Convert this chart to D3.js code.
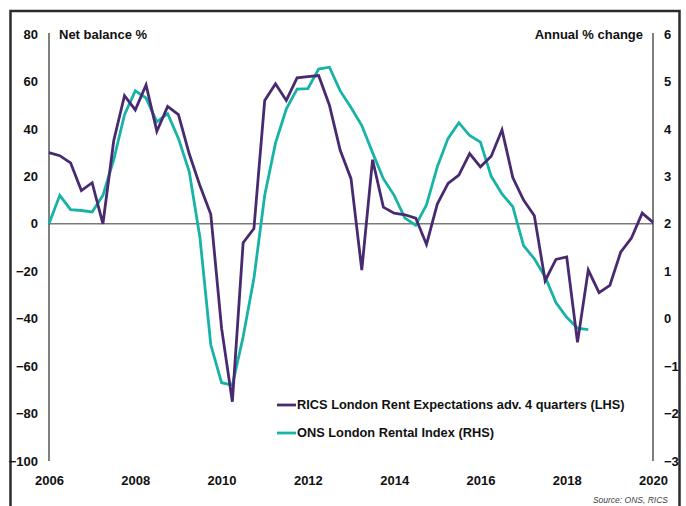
<!DOCTYPE html>
<html>
<head>
<meta charset="utf-8">
<script src="https://cdn.jsdelivr.net/npm/d3@7/dist/d3.min.js"></script>
<style>
  html, body { margin: 0; padding: 0; background: #fff; }
  svg { display: block; font-family: "Liberation Sans", Arial, sans-serif; }
</style>
</head>
<body>
<svg id="chart" width="686" height="506"></svg>
<script>
// ---- Data (quarterly, starting 2006 Q1) ----
const startYear = 2006;
const ricsLabel = "RICS London Rent Expectations adv. 4 quarters (LHS)";
const onsLabel = "ONS London Rental Index (RHS)";
// RICS net balance %, left axis
const ricsValues = [
  30, 28.7, 25.7, 14, 17.3, 0, 35, 54, 48, 58.5,
  39, 49.5, 46, 29.5, 16, 4, -44, -75, -8, -2,
  52, 59, 52, 61.5, 62, 62.5, 50, 31, 19, -19.5,
  27, 7, 4.5, 3.8, 2.4, -8.7, 8.3, 17, 20.5, 29.6,
  24, 28.5, 39.6, 19.5, 10, 3.4, -24, -15, -14, -50,
  -19.5, -29, -26, -12, -6, 4.5, 0.6
];
// ONS annual % change, right axis
const onsValues = [
  2.0, 2.6, 2.3, 2.28, 2.25, 2.6, 3.35, 4.3, 4.8, 4.65,
  4.15, 4.32, 3.8, 3.1, 1.7, -0.55, -1.35, -1.4, -0.38, 0.85,
  2.6, 3.7, 4.42, 4.84, 4.85, 5.26, 5.3, 4.8, 4.45, 4.07,
  3.5, 2.95, 2.6, 2.12, 1.97, 2.4, 3.2, 3.8, 4.13, 3.86,
  3.72, 3.0, 2.63, 2.36, 1.54, 1.26, 0.88, 0.34, 0.03, -0.2,
  -0.23
];
const leftTicks = [80, 60, 40, 20, 0, -20, -40, -60, -80, -100];
const rightTicks = [6, 5, 4, 3, 2, 1, 0, -1, -2, -3];
const yearTicks = [2006, 2008, 2010, 2012, 2014, 2016, 2018, 2020];
const leftTitle = "Net balance %";
const rightTitle = "Annual % change";
const sourceText = "Source: ONS, RICS";

const purple = "#482a70";
const teal = "#17b3a6";

// ---- Layout ----
const svg = d3.select("#chart");
const plot = { left: 49, right: 653, top: 34, bottom: 461 };

const x = d3.scaleLinear().domain([2006, 2020]).range([plot.left, plot.right]);
const yL = d3.scaleLinear().domain([-100, 80]).range([plot.bottom, plot.top]);
const yR = d3.scaleLinear().domain([-3, 6]).range([plot.bottom, plot.top]);

const ricsData = ricsValues.map((v, i) => ({ t: startYear + i / 4, v }));
const onsData = onsValues.map((v, i) => ({ t: startYear + i / 4, v }));

// Frame
svg.append("rect")
  .attr("x", 10.5).attr("y", 11).attr("width", 669).attr("height", 520)
  .attr("fill", "none").attr("stroke", "#2b2b2b").attr("stroke-width", 2.5);

// Zero line
svg.append("line")
  .attr("x1", plot.left).attr("x2", plot.right)
  .attr("y1", yL(0)).attr("y2", yL(0))
  .attr("stroke", "#7a7a7a").attr("stroke-width", 1.5);

// Axes
const axisLeft = d3.axisLeft(yL).tickValues(leftTicks).tickSize(0).tickPadding(11).tickFormat(d3.format("d"));
const gL = svg.append("g").attr("transform", `translate(${plot.left},0)`).call(axisLeft);
const axisRight = d3.axisRight(yR).tickValues(rightTicks).tickSize(0).tickPadding(11).tickFormat(d3.format("d"));
const gR = svg.append("g").attr("transform", `translate(${plot.right},0)`).call(axisRight);
const axisBottom = d3.axisBottom(x).tickValues(yearTicks).tickSize(0).tickPadding(15).tickFormat(d3.format("d"));
const gB = svg.append("g").attr("transform", `translate(0,${plot.bottom})`).call(axisBottom);
gB.select(".domain").remove();

gL.select(".domain").attr("stroke", "#000").attr("stroke-width", 1)
  .attr("d", `M0,${plot.top - 1}V${plot.bottom}`);
gR.select(".domain").attr("stroke", "#000").attr("stroke-width", 1)
  .attr("d", `M0,${plot.top - 1}V${plot.bottom}`);

[gL, gR, gB].forEach(g => {
  g.selectAll("text")
    .attr("fill", "#111")
    .style("font-size", "13px")
    .style("font-weight", "bold")
    .style("font-family", "'Liberation Sans', Arial, sans-serif");
});

// Axis titles
svg.append("text")
  .attr("x", 59).attr("y", plot.top).attr("dy", "0.35em")
  .attr("fill", "#111").style("font-size", "13px").style("font-weight", "bold")
  .text(leftTitle);
svg.append("text")
  .attr("x", 643).attr("y", plot.top).attr("dy", "0.35em")
  .attr("text-anchor", "end")
  .attr("fill", "#111").style("font-size", "13px").style("font-weight", "bold")
  .text(rightTitle);

// Lines
const lineL = d3.line().x(d => x(d.t)).y(d => yL(d.v));
const lineR = d3.line().x(d => x(d.t)).y(d => yR(d.v));

svg.append("path").datum(onsData)
  .attr("d", lineR).attr("fill", "none")
  .attr("stroke", teal).attr("stroke-width", 2.8).attr("stroke-linejoin", "miter");
svg.append("path").datum(ricsData)
  .attr("d", lineL).attr("fill", "none")
  .attr("stroke", purple).attr("stroke-width", 2.8).attr("stroke-linejoin", "miter");

// Legend
const legendItems = [
  { label: ricsLabel, color: purple, y: 405 },
  { label: onsLabel, color: teal, y: 433 }
];
const lg = svg.append("g");
legendItems.forEach(it => {
  lg.append("line")
    .attr("x1", 277).attr("x2", 296).attr("y1", it.y).attr("y2", it.y)
    .attr("stroke", it.color).attr("stroke-width", 2.8);
  lg.append("text")
    .attr("x", 297).attr("y", it.y).attr("dy", "0.35em")
    .attr("fill", "#111").style("font-size", "12.8px").style("font-weight", "bold")
    .text(it.label);
});

// Source
svg.append("text")
  .attr("x", 668).attr("y", 503)
  .attr("text-anchor", "end")
  .attr("fill", "#444").style("font-size", "8.5px").style("font-style", "italic")
  .text(sourceText);
</script>
</body>
</html>
